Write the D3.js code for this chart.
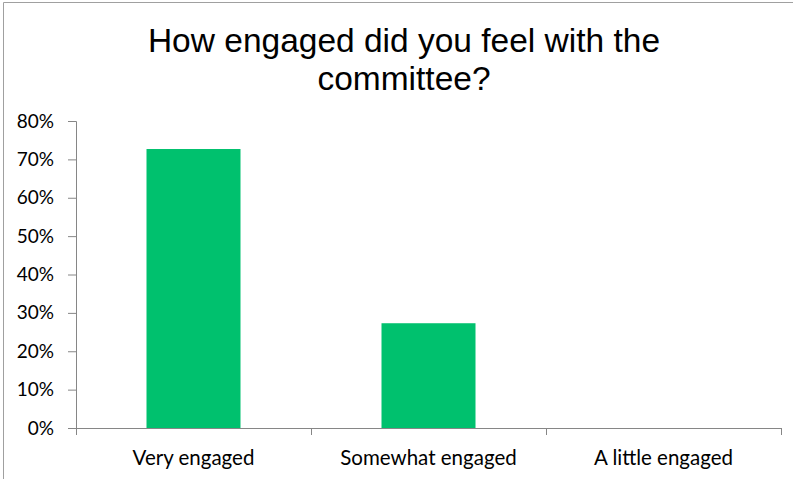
<!DOCTYPE html>
<html>
<head>
<meta charset="utf-8">
<script src="https://cdn.jsdelivr.net/npm/d3@7"></script>
<style>
  body { margin: 0; background: #fff; }
  .axis path, .axis line { stroke: #868686; }
  .axis text { font-family: Lato, "Open Sans", sans-serif; font-size: 19px; fill: #000; }
  .axis text.cat { font-size: 20.5px; }
</style>
</head>
<body>
<div id="chart"></div>
<script>
//chart data
var categories = ["Very engaged", "Somewhat engaged", "A little engaged"];
var values = [72.7, 27.3, 0];
var yTicks = [0, 10, 20, 30, 40, 50, 60, 70, 80];

//svg dimensions
var svgWidth = 793;
var svgHeight = 479;

var margin = {
    top: 121,
    right: 12,
    bottom: 51,
    left: 76
};

var width = svgWidth - margin.left - margin.right;
var height = svgHeight - margin.top - margin.bottom;

var svg = d3.select("#chart")
    .append("svg")
    .attr("width", svgWidth)
    .attr("height", svgHeight);

//outer border of the chart area
svg.append("path")
    .attr("d", `M3.5,${svgHeight} V2.5 H${svgWidth}`)
    .attr("fill", "none")
    .attr("stroke", "#a0a0a0")
    .attr("stroke-width", 1);

//title
var title = svg.append("text")
    .attr("text-anchor", "middle")
    .style("font-family", "'Liberation Sans', Arial, sans-serif")
    .style("font-size", "33.5px")
    .attr("fill", "#000");
title.append("tspan").attr("x", 404).attr("y", 52).text("How engaged did you feel with the");
title.append("tspan").attr("x", 404).attr("y", 90).text("committee?");

var chartGroup = svg.append("g")
    .attr("transform", `translate(${margin.left}, ${margin.top})`);

var xBandScale = d3.scaleBand()
    .domain(categories)
    .range([0, width])
    .paddingInner(0.6)
    .paddingOuter(0.3);

var yLinearScale = d3.scaleLinear()
    .domain([0, 80])
    .range([height, 0]);

//y axis
var leftAxis = d3.axisLeft(yLinearScale)
    .tickValues(yTicks)
    .tickSize(8)
    .tickPadding(14)
    .tickFormat(d => d + "%");

chartGroup.append("g")
    .classed("axis", true)
    .call(leftAxis)
    .call(g => g.select(".domain").attr("d", `M0.5,${height}V0.5H-8`));

//x axis with ticks on category boundaries
var xAxisGroup = chartGroup.append("g")
    .classed("axis", true)
    .attr("transform", `translate(0, ${height})`);

xAxisGroup.append("line")
    .attr("x1", 0)
    .attr("x2", width)
    .attr("y1", 0.5)
    .attr("y2", 0.5)
    .attr("stroke", "#868686");

xAxisGroup.selectAll(".sep")
    .data(d3.range(categories.length + 1))
    .enter()
    .append("line")
    .attr("x1", i => Math.round(i * width / categories.length) + 0.5)
    .attr("x2", i => Math.round(i * width / categories.length) + 0.5)
    .attr("y1", 0)
    .attr("y2", 7)
    .attr("stroke", "#868686");

xAxisGroup.selectAll(".cat")
    .data(categories)
    .enter()
    .append("text")
    .classed("cat", true)
    .attr("x", d => xBandScale(d) + xBandScale.bandwidth() / 2)
    .attr("y", 37)
    .attr("text-anchor", "middle")
    .text(d => d);

//bars
chartGroup.selectAll("rect")
    .data(values)
    .enter()
    .append("rect")
    .attr("x", (d, i) => xBandScale(categories[i]))
    .attr("y", d => yLinearScale(d))
    .attr("width", xBandScale.bandwidth())
    .attr("height", d => height - yLinearScale(d))
    .attr("fill", "#00c16e");
</script>
</body>
</html>
